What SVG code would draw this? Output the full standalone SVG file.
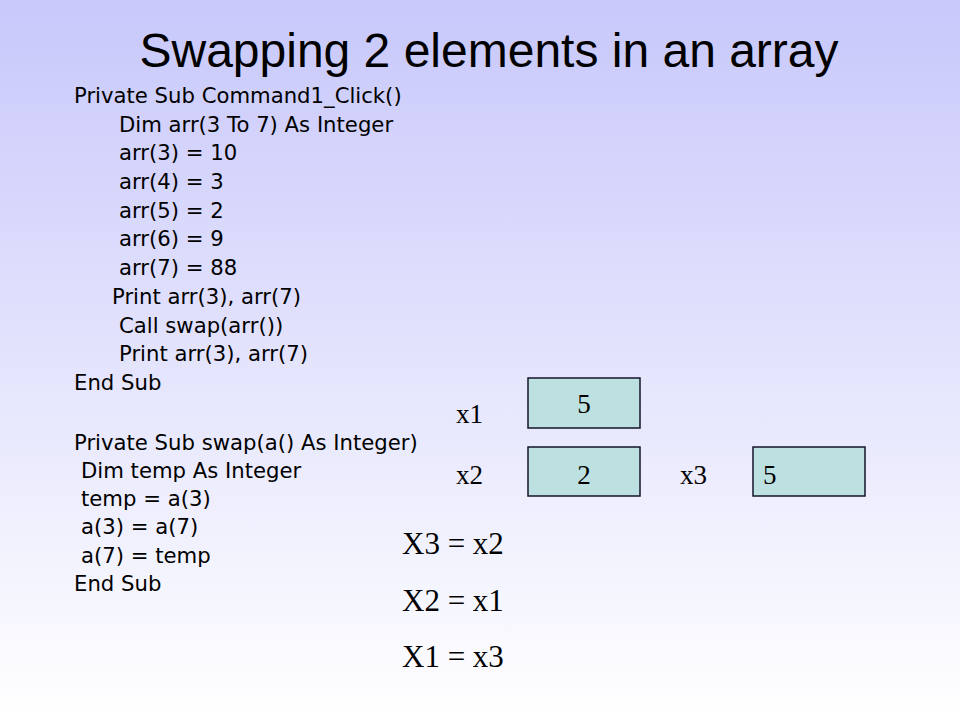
<svg xmlns="http://www.w3.org/2000/svg" width="960" height="720" viewBox="0 0 960 720">
<defs>
<linearGradient id="bg" x1="0" y1="0" x2="0" y2="1">
<stop offset="0" stop-color="#c8c8fb"/>
<stop offset="1" stop-color="#ffffff"/>
</linearGradient>
</defs>
<style>
.title{font-family:"Liberation Sans",Arial,sans-serif;font-size:48px;fill:#000}
.code{font-family:"DejaVu Sans",Tahoma,Verdana,sans-serif;font-size:21.2px;fill:#000}
.lbl{font-family:"Liberation Serif","Times New Roman",serif;font-size:27px;fill:#000}
.eq{font-family:"Liberation Serif","Times New Roman",serif;font-size:31px;fill:#000}
.box{fill:#bde0e1;stroke:#15152a;stroke-width:1.5}
</style>
<rect x="0" y="0" width="960" height="720" fill="url(#bg)"/>
<text class="title" x="489" y="67" text-anchor="middle">Swapping 2 elements in an array</text>
<g id="code1" class="code">
<text x="74" y="103">Private Sub Command1_Click()</text>
<text x="119" y="132">Dim arr(3 To 7) As Integer</text>
<text x="119" y="160">arr(3) = 10</text>
<text x="119" y="189">arr(4) = 3</text>
<text x="119" y="218">arr(5) = 2</text>
<text x="119" y="246">arr(6) = 9</text>
<text x="119" y="275">arr(7) = 88</text>
<text x="112" y="304">Print arr(3), arr(7)</text>
<text x="119" y="333">Call swap(arr())</text>
<text x="119" y="361">Print arr(3), arr(7)</text>
<text x="74" y="390">End Sub</text>
</g>
<g id="code2" class="code">
<text x="74" y="450">Private Sub swap(a() As Integer)</text>
<text x="81" y="478">Dim temp As Integer</text>
<text x="81" y="506">temp = a(3)</text>
<text x="81" y="534">a(3) = a(7)</text>
<text x="81" y="563">a(7) = temp</text>
<text x="74" y="591">End Sub</text>
</g>
<g id="x1">
<text class="lbl" x="456" y="423">x1</text>
<rect class="box" x="528" y="378" width="112" height="50"/>
<text class="lbl" x="584" y="413" text-anchor="middle">5</text>
</g>
<g id="x2">
<text class="lbl" x="456" y="484">x2</text>
<rect class="box" x="528" y="447" width="112" height="49"/>
<text class="lbl" x="584" y="484" text-anchor="middle">2</text>
</g>
<g id="x3">
<text class="lbl" x="680" y="484">x3</text>
<rect class="box" x="753" y="447" width="112" height="49"/>
<text class="lbl" x="763" y="484">5</text>
</g>
<g id="steps" class="eq">
<text x="402" y="554">X3 = x2</text>
<text x="402" y="611">X2 = x1</text>
<text x="402" y="667">X1 = x3</text>
</g>
<g id="connectors"/>
</svg>
